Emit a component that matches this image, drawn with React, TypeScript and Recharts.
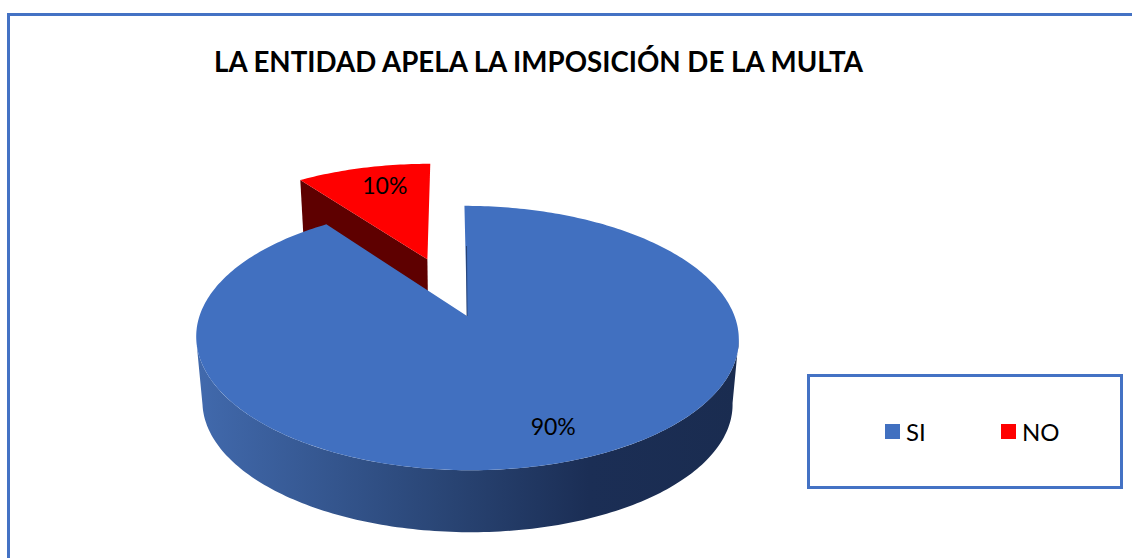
import { PieChart, Pie, Cell, Legend } from "recharts";

const categories = ["SI", "NO"];
const values = [90, 10];
const colors = ["#4170c0", "#ff0000"];
const wallColors = ["url(#pieWall)", "#5e0000"];
const explode = [0, 0.5];
const labelTurn = [2, -3];
const labelReach = [0.8, 0.78];

// drawn back to front, the red slice sits behind the big one
const pieData = categories
  .map((name, i) => ({
    name,
    value: values[i],
    color: colors[i],
    wall: wallColors[i],
    explode: explode[i],
    turn: labelTurn[i],
    reach: labelReach[i],
  }))
  .reverse();

const FONT = "Lato, sans-serif";
const BORDER = "#4472c4";

// fake 3D: perspective projection of the flat disc
const TILT = 0.4805;
const PERSP = 0.1667;
const SKEW = -0.0112;
const FLOOR_SCALE = 0.977;
const FLOOR_DROP = 65.5;
const rad = (deg: number) => (deg * Math.PI) / 180;

function project(cx: number, cy: number, r: number, u: number, v: number, floor = false) {
  const w = 1 + PERSP * v;
  const s = floor ? FLOOR_SCALE : 1;
  return [cx + (s * r * (u + SKEW * v)) / w, cy + (floor ? FLOOR_DROP : 0) - (s * r * TILT * v) / w];
}

const toPath = (pts: number[][]) =>
  pts.map((p, i) => `${i === 0 ? "M" : "L"}${p[0].toFixed(2)},${p[1].toFixed(2)}`).join(" ") + " Z";

function SliceShape(props: any) {
  const { cx, cy, outerRadius: r, startAngle, endAngle, payload } = props;
  const entry = payload?.payload ?? payload;
  const mid = (startAngle + endAngle) / 2;
  const ox = entry.explode * Math.cos(rad(mid));
  const oy = entry.explode * Math.sin(rad(mid));
  const rim = (deg: number, floor = false) =>
    project(cx, cy, r, ox + Math.cos(rad(deg)), oy + Math.sin(rad(deg)), floor);
  const apex = project(cx, cy, r, ox, oy);
  const apexLow = project(cx, cy, r, ox, oy, true);

  const hi = Math.max(startAngle, endAngle);
  const lo = Math.min(startAngle, endAngle);
  const face = [apex];
  for (let a = hi; a > lo; a -= 1) face.push(rim(a));
  face.push(rim(lo));

  // outer wall, only on the front half
  const wallHi = Math.min(hi, -9.6);
  const wallLo = Math.max(lo, -170.4);
  const top: number[][] = [];
  const low: number[][] = [];
  for (let a = wallHi; a >= wallLo; a -= 1) {
    top.push(rim(a));
    low.push(rim(a, true));
  }

  return (
    <g>
      <defs>
        <linearGradient id="pieWall" gradientUnits="userSpaceOnUse" x1={200} y1={0} x2={740} y2={0}>
          <stop offset="0" stopColor="#4169ac" />
          <stop offset="0.44" stopColor="#2a4676" />
          <stop offset="0.72" stopColor="#1b2e55" />
          <stop offset="1" stopColor="#1a2c50" />
        </linearGradient>
      </defs>
      {top.length > 1 && <path d={toPath([...top, ...low.reverse()])} fill={entry.wall} />}
      {entry.explode > 0 && <path d={toPath([apex, rim(hi), rim(hi, true), apexLow])} fill={entry.wall} />}
      <path d={toPath(face)} fill={entry.color} />
      {entry.explode === 0 && (
        <line x1={apex[0] - 0.5} y1={apex[1] - 70} x2={apex[0]} y2={apex[1]} stroke="#1a2c50" strokeOpacity={0.7} />
      )}
    </g>
  );
}

function renderLabel(props: any) {
  const { cx, cy, outerRadius: r, startAngle, endAngle, payload } = props;
  const entry = payload?.payload ?? payload;
  const mid = (startAngle + endAngle) / 2;
  const ox = entry.explode * Math.cos(rad(mid));
  const oy = entry.explode * Math.sin(rad(mid));
  const at = mid + entry.turn;
  const [x, y] = project(cx, cy, r, ox + entry.reach * Math.cos(rad(at)), oy + entry.reach * Math.sin(rad(at)));
  return (
    <text x={x} y={y} textAnchor="middle" dominantBaseline="central" fontFamily={FONT} fontSize={23} fill="#000">
      {`${entry.value}%`}
    </text>
  );
}

function LegendBox() {
  return (
    <div
      style={{
        boxSizing: "border-box",
        width: 316,
        height: 115,
        border: `3px solid ${BORDER}`,
        background: "#fff",
        position: "relative",
        fontFamily: FONT,
        fontSize: 24,
        color: "#000",
      }}
    >
      {categories.map((name, i) => (
        <div key={name} style={{ position: "absolute", left: 75 + i * 116, top: 38, display: "flex", alignItems: "center", height: 32 }}>
          <span style={{ width: 15, height: 15, background: colors[i], marginRight: 6 }} />
          <span>{name}</span>
        </div>
      ))}
    </div>
  );
}

export default function App() {
  return (
    <div style={{ position: "absolute", left: 0, top: 0, width: 1132, height: 558, overflow: "hidden", background: "#fff" }}>
      {/* marco del grafico, se sale de la imagen por la derecha y abajo */}
      <div
        style={{
          position: "absolute",
          left: 7,
          top: 13,
          width: 1300,
          height: 700,
          border: `3px solid ${BORDER}`,
        }}
      />
      <div
        style={{
          position: "absolute",
          left: 214,
          top: 43,
          fontFamily: FONT,
          fontWeight: 700,
          fontSize: 27.7,
          lineHeight: "38px",
          whiteSpace: "nowrap",
          color: "#000",
        }}
      >
        LA ENTIDAD APELA LA IMPOSICIÓN DE LA MULTA
      </div>
      <div style={{ position: "absolute", left: 0, top: 0 }}>
        <PieChart width={1132} height={558} margin={{ top: 0, right: 0, bottom: 0, left: 0 }}>
          <Pie
            data={pieData}
            dataKey="value"
            nameKey="name"
            cx={467}
            cy={316}
            outerRadius={267.5}
            startAngle={126}
            endAngle={-234}
            stroke="none"
            label={renderLabel}
            labelLine={false}
            shape={SliceShape}
            isAnimationActive={false}
          >
            {pieData.map((entry) => (
              <Cell key={entry.name} fill={entry.color} />
            ))}
          </Pie>
          <Legend
            content={<LegendBox />}
            wrapperStyle={{ position: "absolute", left: 807, top: 374, width: 316, height: 115, bottom: "auto", right: "auto" }}
          />
        </PieChart>
      </div>
    </div>
  );
}
